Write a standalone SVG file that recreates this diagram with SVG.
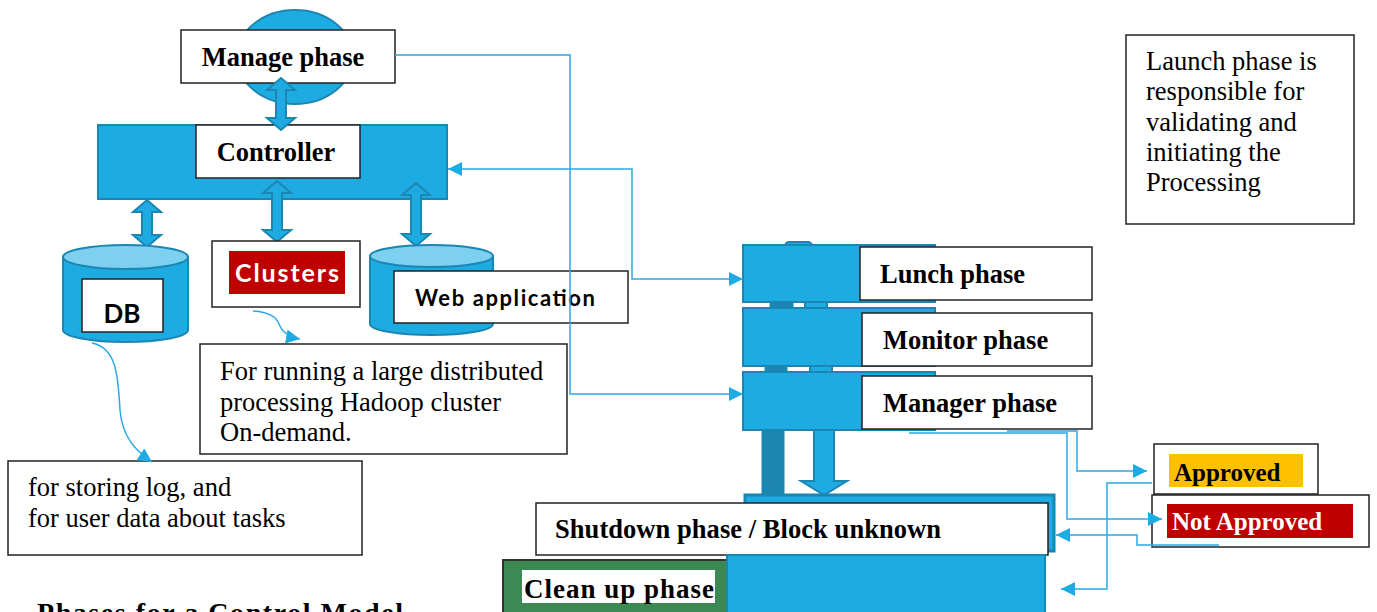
<svg xmlns="http://www.w3.org/2000/svg" width="1377" height="612" viewBox="0 0 1377 612">
<style>
.blue{fill:#1EABE2;stroke:#1B86B2;stroke-width:2}
.dark{fill:#1B86B2;stroke:#1B86B2;stroke-width:1}
.lid{fill:#7DD0F0;stroke:#1B86B2;stroke-width:2}
.box{fill:#fff;stroke:#222;stroke-width:1.5}
.dbl{fill:#1EABE2;stroke:#1B86B2;stroke-width:2}
.tb{font-family:"Liberation Serif","Times New Roman",serif;font-weight:bold;font-size:26.5px;fill:#000}
.tr{font-family:"Liberation Serif","Times New Roman",serif;font-size:26.5px;fill:#000}
.sb{font-family:Lato,"Open Sans",sans-serif;font-weight:bold;fill:#000}
.con{fill:none;stroke:#29ABE2;stroke-width:1.5}
</style>
<defs>
<marker id="ah" viewBox="0 0 14 14" refX="14" refY="7" markerWidth="14" markerHeight="14" markerUnits="userSpaceOnUse" orient="auto-start-reverse">
<path d="M0,0 L14,7 L0,14 Z" fill="#1EAAE2"/>
</marker>
</defs>

<g id="manage">
<ellipse cx="295" cy="57" rx="58" ry="47" class="blue"/>
<rect x="181" y="30" width="214" height="53" class="box"/>
<text x="283" y="66" text-anchor="middle" class="tb">Manage phase</text>
</g>

<g id="controller">
<rect x="98" y="125" width="349" height="74" class="blue"/>
<rect x="196" y="125" width="164" height="53" class="box"/>
<text x="276" y="161" text-anchor="middle" class="tb">Controller</text>
</g>

<g id="arrows-thick">
<path class="dbl" d="M281,78 L295,90 L286,90 L286,118 L295,118 L281,130 L267,118 L276,118 L276,90 L267,90 Z"/>
<path class="dbl" d="M147,200 L161,212 L152,212 L152,235 L161,235 L147,247 L133,235 L142,235 L142,212 L133,212 Z"/>
<path class="dbl" d="M277,181 L291,193 L282,193 L282,230 L291,230 L277,242 L263,230 L272,230 L272,193 L263,193 Z"/>
<path class="dbl" d="M416,183 L430,195 L421,195 L421,234 L430,234 L416,246 L402,234 L411,234 L411,195 L402,195 Z"/>
</g>

<g id="db">
<path class="blue" d="M63,257 L63,330 A62,12 0 0 0 188,330 L188,257 Z"/>
<ellipse cx="125.5" cy="257" rx="62.5" ry="12" class="lid"/>
<rect x="82" y="279" width="81" height="53" class="box"/>
<text x="122" y="323" text-anchor="middle" class="sb" font-size="26">DB</text>
</g>

<g id="clusters">
<rect x="212" y="241" width="148" height="66" class="box"/>
<rect x="229" y="251" width="116" height="43" fill="#C00000"/>
<text x="287" y="282" text-anchor="middle" class="sb" font-size="25" style="fill:#fff" textLength="104">Clusters</text>
</g>

<g id="webapp">
<path class="blue" d="M370,256 L370,324 A61.5,11 0 0 0 493,324 L493,256 Z"/>
<ellipse cx="431.5" cy="256" rx="61.5" ry="11" class="lid"/>
<rect x="394" y="271" width="234" height="52" class="box"/>
<text x="415" y="306" class="sb" font-size="22" textLength="180">Web application</text>
</g>

<g id="cluster-note">
<rect x="200" y="344" width="367" height="110" class="box"/>
<text x="220" y="380" class="tr">For running a large distributed</text>
<text x="220" y="411" class="tr">processing Hadoop cluster</text>
<text x="220" y="441" class="tr">On-demand.</text>
</g>

<g id="db-note">
<rect x="8" y="461" width="354" height="94" class="box"/>
<text x="28" y="496" class="tr">for storing log, and</text>
<text x="28" y="527" class="tr">for user data about tasks</text>
</g>

<g id="launch-note">
<rect x="1126" y="35" width="228" height="189" class="box"/>
<text x="1146" y="70" class="tr">Launch phase is</text>
<text x="1146" y="100" class="tr">responsible for</text>
<text x="1146" y="131" class="tr">validating and</text>
<text x="1146" y="161" class="tr">initiating the</text>
<text x="1146" y="191" class="tr">Processing</text>
</g>

<g id="phase-stack">
<rect x="785" y="242" width="27" height="8" rx="4" class="blue"/>
<rect x="770" y="300" width="23" height="10" class="dark"/>
<rect x="805" y="300" width="22" height="10" class="blue"/>
<rect x="765" y="364" width="22" height="10" class="dark"/>
<rect x="810" y="364" width="22" height="10" class="blue"/>
<rect x="762" y="428" width="22" height="67" class="dark"/>
<path class="blue" d="M814,428 L834,428 L834,481 L847,481 L824,495 L801,481 L814,481 Z"/>
</g>

<g id="lunch">
<rect x="743" y="245" width="192" height="57" class="blue"/>
<rect x="860" y="247" width="232" height="53" class="box"/>
<text x="880" y="283" class="tb">Lunch phase</text>
</g>

<g id="monitor">
<rect x="743" y="308" width="192" height="58" class="blue"/>
<rect x="862" y="313" width="230" height="53" class="box"/>
<text x="883" y="349" class="tb">Monitor phase</text>
</g>

<g id="manager">
<rect x="743" y="372" width="192" height="58" class="blue"/>
<rect x="862" y="376" width="230" height="53" class="box"/>
<text x="883" y="412" class="tb">Manager phase</text>
</g>

<g id="shutdown">
<rect x="745" y="495" width="309" height="56" class="blue" style="stroke-width:3"/>
<rect x="536" y="503" width="512" height="52" class="box"/>
<text x="555" y="538" class="tb" textLength="386">Shutdown phase / Block unknown</text>
</g>

<g id="cleanup">
<rect x="503" y="560" width="260" height="60" fill="#3D8953" stroke="#333" stroke-width="2"/>
<rect x="727" y="555" width="318" height="65" class="blue"/>
<rect x="522" y="570" width="193" height="33" fill="#fff"/>
<text x="524" y="598" class="tb" style="font-size:27px" textLength="190">Clean up phase</text>
</g>

<g id="approved">
<rect x="1154" y="444" width="164" height="50" class="box"/>
<rect x="1169" y="454" width="134" height="33" fill="#FFC000"/>
<text x="1174" y="481" class="tb" style="font-size:25px">Approved</text>
</g>

<g id="not-approved">
<rect x="1152" y="495" width="217" height="52" class="box"/>
<rect x="1167" y="504" width="186" height="34" fill="#C00000"/>
<text x="1172" y="530" class="tb" style="fill:#fff;font-size:25px">Not Approved</text>
</g>

<g id="caption">
<text x="37" y="622" class="tb" style="font-size:28px" textLength="366">Phases for a Control Model</text>
</g>

<g id="connectors">
<path class="con" d="M395,55 H570 V394 H743" marker-end="url(#ah)"/>
<path class="con" d="M448,169 H632 V279 H743" marker-start="url(#ah)" marker-end="url(#ah)"/>
<path class="con" d="M92,343 C118,348 118,380 120,410 C122,435 134,450 152,462" marker-end="url(#ah)"/>
<path class="con" d="M253,311 C268,312 276,316 279,324 C282,332 289,337 300,339" marker-end="url(#ah)"/>
<path class="con" d="M1007,431 H1077 V471 H1147" marker-end="url(#ah)"/>
<path class="con" d="M909,433 H1067 V519 H1162" marker-end="url(#ah)"/>
<path class="con" d="M1152,483 H1107 V589 H1061" marker-end="url(#ah)"/>
<path class="con" d="M1219,545 H1137 V535 H1056" marker-end="url(#ah)"/>
</g>
</svg>
